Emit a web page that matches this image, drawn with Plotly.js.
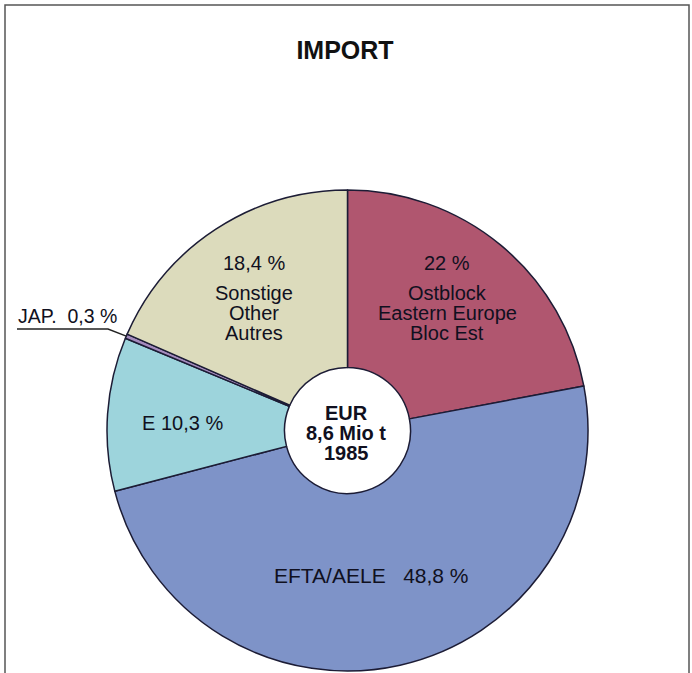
<!DOCTYPE html>
<html>
<head>
<meta charset="utf-8">
<script src="https://cdn.plot.ly/plotly-3.0.1.min.js"></script>
<style>html,body{margin:0;padding:0;background:#fff;}</style>
</head>
<body>
<div id="chart" style="width:692px;height:673px;"></div>
<script>
// ---- data ----
const categories = ['Ostblock', 'EFTA/AELE', 'E', 'JAP.', 'Sonstige'];
const values = [22, 48.8, 10.3, 0.3, 18.4];
const labelsEN = ['Eastern Europe', '', '', '', 'Other'];
const labelsFR = ['Bloc Est', '', '', '', 'Autres'];
const centerLines = ['EUR', '8,6 Mio t', '1985'];
const titleText = 'IMPORT';

// ---- style ----
const W = 692, H = 673;
const colors = ['#b0566f', '#7e93c8', '#9dd4dc', '#a48bbd', '#dcdbbc'];
const FONT = '"Liberation Sans", Arial, Helvetica, sans-serif';
const TXT = '#101020';
const cx = 347.5, cy = 430.5, R = 240.5;
const px = x => x / W;
const py = y => 1 - y / H;
const fmt = v => String(v).replace('.', ',') + '\u00a0%';

function ann(text, x, y, opts) {
  return Object.assign({
    text: text, x: px(x), y: py(y), xref: 'paper', yref: 'paper',
    xanchor: 'center', yanchor: 'middle', showarrow: false,
    font: {family: FONT, size: 20, color: TXT}
  }, opts || {});
}

const annotations = [];
// Ostblock
[fmt(values[0]), categories[0], labelsEN[0], labelsFR[0]].forEach((t, i) => {
  annotations.push(ann(t, 447, [263, 293, 313, 333][i]));
});
// Sonstige
[fmt(values[4]), categories[4], labelsEN[4], labelsFR[4]].forEach((t, i) => {
  annotations.push(ann(t, 254, [263, 293, 313, 333][i]));
});
// E
annotations.push(ann(categories[2] + '\u00a0' + fmt(values[2]), 182, 423));
// EFTA
annotations.push(ann(categories[1] + '\u00a0\u00a0\u00a0' + fmt(values[1]), 371, 575, {font: {family: FONT, size: 21, color: TXT}}));
// JAP
annotations.push(ann(categories[3] + '\u00a0\u00a0' + fmt(values[3]), 16, 316, {xanchor: 'left', font: {family: FONT, size: 19.5, color: TXT}}));
// center
centerLines.forEach((t, i) => {
  annotations.push(ann('<b>' + t + '</b>', 346, [413, 433, 453][i], {font: {family: FONT, size: 20, color: TXT}}));
});

// leader line to JAP slice, endpoint from the data
const total = values.reduce((a, b) => a + b, 0);
const before = values.slice(0, 3).reduce((a, b) => a + b, 0);
const midFrac = (before + values[3] / 2) / total;
const ang = midFrac * 2 * Math.PI;
const ex = cx + Math.sin(ang) * R, ey = cy - Math.cos(ang) * R;
const shapes = [
  {type: 'path', xref: 'paper', yref: 'paper',
   path: `M ${px(17)} ${py(329)} L ${px(108)} ${py(329)} L ${px(ex)} ${py(ey)}`,
   line: {color: '#222', width: 1.4}},
  {type: 'rect', xref: 'paper', yref: 'paper', x0: px(5), x1: px(689), y0: py(680), y1: py(5),
   line: {color: '#555', width: 1.5}, layer: 'below'}
];

const trace = {
  type: 'pie',
  labels: categories,
  values: values,
  sort: false,
  direction: 'clockwise',
  rotation: 0,
  hole: 0.262,
  textinfo: 'none',
  hoverinfo: 'label+percent',
  marker: {colors: colors, line: {color: '#1c1c35', width: 1.5}},
  domain: {x: [px(cx - R), px(cx + R)], y: [py(cy + R), py(cy - R)]},
  showlegend: false
};

const layout = {
  width: W, height: H,
  margin: {l: 0, r: 0, t: 0, b: 0},
  paper_bgcolor: '#ffffff',
  plot_bgcolor: '#ffffff',
  title: {text: '<b>' + titleText + '</b>', x: 345 / W, xanchor: 'center', y: 1 - 50 / H, yanchor: 'middle', yref: 'container',
          font: {family: FONT, size: 25, color: '#111'}},
  annotations: annotations,
  shapes: shapes,
  showlegend: false
};

Plotly.newPlot('chart', [trace], layout, {displayModeBar: false, staticPlot: true});
</script>
</body>
</html>
